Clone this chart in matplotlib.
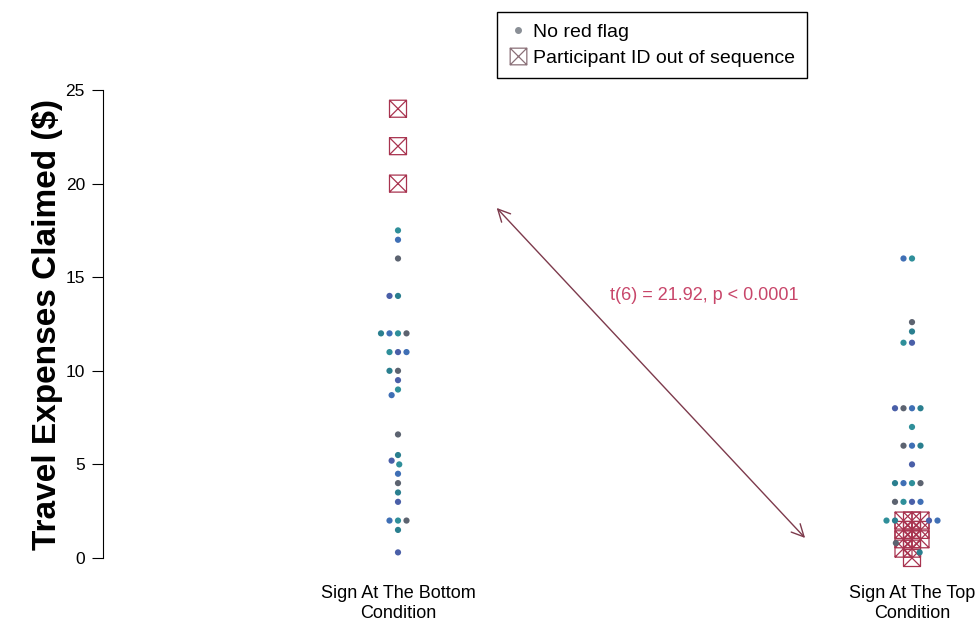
import numpy as np
import matplotlib.pyplot as plt
from matplotlib.path import Path
from matplotlib.lines import Line2D

plt.rcParams['font.family'] = ['Liberation Sans', 'DejaVu Sans']

conditions = ["Sign At The Bottom\nCondition", "Sign At The Top\nCondition"]

# montants ($)
bottom_ok = [17.5, 17, 16, 14, 14, 12, 12, 12, 12, 11, 11, 11, 10, 10, 9.5, 9, 8.7,
             6.6, 5.5, 5.2, 5, 4.5, 4, 3.5, 3, 2, 2, 2, 1.5, 0.3]
bottom_flag = [24, 22, 20]
top_ok = [16, 16, 12.6, 12.1, 11.5, 11.5, 8, 8, 8, 8, 7, 6, 6, 6, 5, 4, 4, 4, 4,
          3, 3, 3, 3, 2, 2, 2, 2, 0.8, 0.3]
top_flag = [2, 2, 2, 1.5, 1.5, 1.5, 1, 1, 1, 0.5, 0.5, 0]

stat_text = "t(6) = 21.92, p < 0.0001"
arrow_from = (1.192, 18.7)
arrow_to = (1.792, 1.07)
text_pos = (1.595, 14.0)

dot_colors = ['#2f8f9a', '#3f6fb5', '#5c6370', '#2a7f8f', '#4a5fa8']
flag_color = '#a8334f'

# marqueur carre avec une croix (pch=7 dans R)
verts = [(-1, -1), (1, -1), (1, 1), (-1, 1), (-1, -1),
         (-1, -1), (1, 1), (-1, 1), (1, -1)]
codes = [Path.MOVETO, Path.LINETO, Path.LINETO, Path.LINETO, Path.CLOSEPOLY,
         Path.MOVETO, Path.LINETO, Path.MOVETO, Path.LINETO]
box_x = Path(verts, codes)


def swarm(ax, xc, values, gap):
    # place chaque point au plus pres du centre sans chevauchement (en pixels)
    pts = ax.transData.transform([(xc, v) for v in values])
    placed = []
    out = []
    for px, py in pts:
        cands = [0.0]
        for qx, qy in placed:
            dy = py - qy
            if abs(dy) < gap:
                dx = np.sqrt(gap**2 - dy**2)
                cands += [qx - px - dx, qx - px + dx]
        cands.sort(key=lambda c: (round(abs(c), 6), c))
        for c in cands:
            if all((px + c - qx)**2 + (py - qy)**2 >= gap**2 - 1e-6 for qx, qy in placed):
                break
        placed.append((px + c, py))
        out.append((px + c, py))
    return ax.transData.inverted().transform(out)


fig = plt.figure(figsize=(9.78, 6.26), dpi=100)
ax = fig.add_axes([103/978, 1 - 570/626, 857/978, 500/626])
ax.set_xlim(1 - 295/514, 2 + 48/514)
ax.set_ylim(-12/18.72, 25 + 20/18.72)

gap = 8.5
for xc, ok, flag in [(1, bottom_ok, bottom_flag), (2, top_ok, top_flag)]:
    xy = swarm(ax, xc, list(flag) + list(ok), gap)
    fxy = xy[:len(flag)]
    oxy = xy[len(flag):]
    cols = [dot_colors[i % len(dot_colors)] for i in range(len(ok))]
    ax.scatter(oxy[:, 0], oxy[:, 1], s=20, c=cols, zorder=3, linewidths=0)
    ax.scatter(fxy[:, 0], fxy[:, 1], s=150, marker=box_x, facecolors='none',
               edgecolors=flag_color, linewidths=0.9, zorder=2)

ax.annotate('', xy=arrow_from, xytext=arrow_to,
            arrowprops=dict(arrowstyle='<->', color='#7d3a4c', lw=1.0,
                            mutation_scale=22, shrinkA=0, shrinkB=0))
ax.text(text_pos[0], text_pos[1], stat_text, color='#c8466a', fontsize=13,
        ha='center', va='center')

for s in ['top', 'right', 'bottom']:
    ax.spines[s].set_visible(False)
ax.spines['left'].set_bounds(0, 25)
ax.set_yticks([0, 5, 10, 15, 20, 25])
ax.tick_params(axis='y', length=8, pad=5, labelsize=12.5)
ax.set_xticks([1, 2])
ax.set_xticklabels(conditions, fontsize=13, linespacing=1.2)
ax.tick_params(axis='x', length=0, pad=11)

ax.set_ylabel('Travel Expenses Claimed ($)', fontsize=24, fontweight='bold')
ax.yaxis.set_label_coords(-0.047, 0.49)

handles = [Line2D([], [], ls='none', marker='o', ms=4, color='#8a8f96'),
           Line2D([], [], ls='none', marker=box_x, ms=12, mfc='none',
                  mec='#8a7078', mew=0.9)]
leg = fig.legend(handles, ['No red flag', 'Participant ID out of sequence'],
                 loc='upper left', bbox_to_anchor=(497/978, 1 - 12/626),
                 bbox_transform=fig.transFigure, fontsize=14, fancybox=False,
                 edgecolor='black', framealpha=1, borderpad=0.6,
                 handletextpad=0.25, labelspacing=0.4, handlelength=1.0,
                 borderaxespad=0)
leg.get_frame().set_linewidth(1.0)

fig.savefig('out.png', dpi=100)
